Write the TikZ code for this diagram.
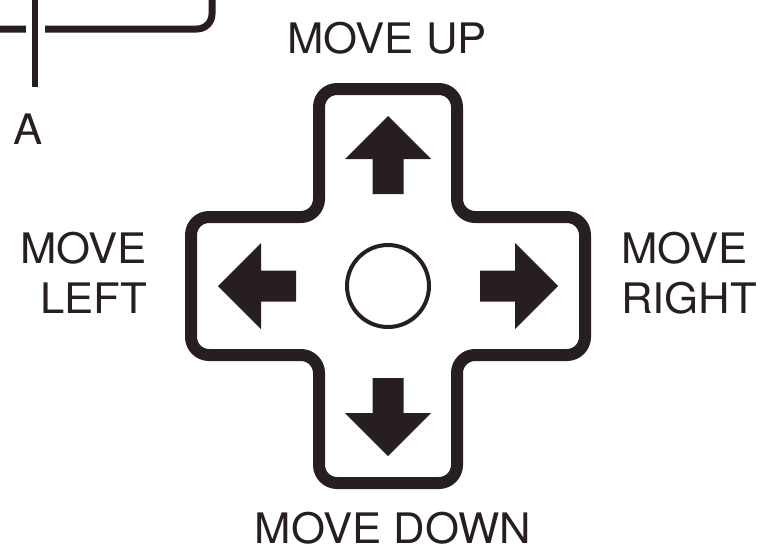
\documentclass[tikz,border=0pt]{standalone}
\usepackage{fontspec}
\setmainfont{TeX Gyre Heros}
\newfontfamily\padfont[FakeStretch=1.04]{TeX Gyre Heros}
\definecolor{ink}{RGB}{38,30,32}

\begin{document}
\begin{tikzpicture}[
    x=1pt, y=-1pt,
    outline/.style={line width=12pt, draw=ink, rounded corners=18pt, line join=round},
    frame/.style={line width=7pt, draw=ink, rounded corners=15pt},
    leader/.style={line width=6pt, draw=ink, preaction={draw, white, line width=19pt}},
    padarrow/.style={fill=ink},
    padtext/.style={font=\padfont\fontsize{42}{50}\selectfont, text=ink, inner sep=0pt}
]
    \useasboundingbox (0,0) rectangle (762,552);
    \clip (0,0) rectangle (762,552);
    \coordinate (c) at (388,286);

    % corner of the other part, with its leader
    \draw[frame] (-5,29) -- (212,29) -- (212,-10);
    \coordinate (atop) at (35,-5);
    \coordinate (aend) at (35,87);
    \draw[leader] (atop) -- (aend);
    \node[padtext, anchor=base] (a) at (28,144) {A};

    % the pad
    \draw[outline, shift={(c)}]
        (-69,-197) -- (69,-197) -- (69,-69) -- (197,-69) -- (197,69) -- (69,69)
        -- (69,197) -- (-69,197) -- (-69,69) -- (-197,69) -- (-197,-69) -- (-69,-69) -- cycle;
    \node[circle, draw=ink, line width=4pt, minimum size=82pt, inner sep=0pt] (btn) at (c) {};

    \foreach \ang in {0,90,180,270} {
        \fill[padarrow, shift={(c)}, rotate=\ang]
            (0,-170) -- (43,-127) -- (15.5,-127) -- (15.5,-92) -- (-15.5,-92) -- (-15.5,-127) -- (-43,-127) -- cycle;
    }

    \node[padtext, anchor=base] (up) at (387,53) {MOVE UP};
    \node[padtext, anchor=base] (down) at (393,543) {MOVE DOWN};
    \node[padtext, anchor=east, align=right] (left) at (147,273) {MOVE\\LEFT};
    \node[padtext, anchor=west, align=left] (right) at (621,273) {MOVE\\RIGHT};
\end{tikzpicture}
\end{document}
